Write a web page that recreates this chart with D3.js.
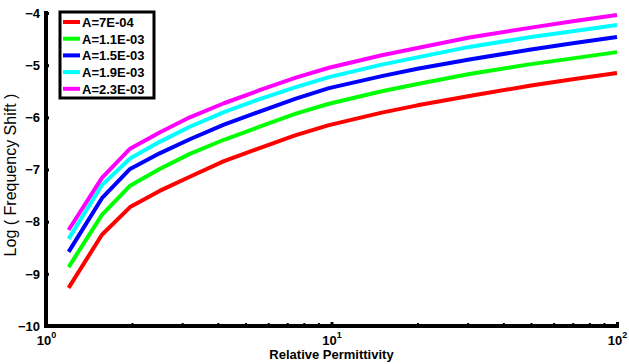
<!DOCTYPE html>
<meta charset="utf-8">
<html>
<head>
<style>
  body { margin: 0; background: #fff; }
  text { font-family: Arial, "Liberation Sans", sans-serif; }
</style>
<script src="https://d3js.org/d3.v7.min.js"></script>
</head>
<body>
<div id="chart"></div>
<script>

// relative permittivity (x values)
var eps = [1.2, 1.57, 1.97, 2.5, 3.19, 4.2, 5.6, 7.5, 9.8, 15, 20, 30.4, 50, 70, 100];

// log frequency shift for each A
var aRed     = [-9.27, -8.25, -7.72, -7.41, -7.14, -6.84, -6.59, -6.34, -6.15, -5.91, -5.77, -5.59, -5.39, -5.27, -5.15];
var aGreen   = [-8.87, -7.87, -7.31, -6.99, -6.70, -6.43, -6.18, -5.93, -5.74, -5.50, -5.36, -5.17, -4.98, -4.87, -4.75];
var aBlue    = [-8.58, -7.55, -6.99, -6.69, -6.42, -6.14, -5.89, -5.64, -5.44, -5.21, -5.07, -4.89, -4.70, -4.58, -4.46];
var aCyan    = [-8.33, -7.30, -6.79, -6.47, -6.18, -5.90, -5.65, -5.42, -5.23, -4.99, -4.85, -4.65, -4.46, -4.35, -4.23];
var aMagenta = [-8.16, -7.16, -6.60, -6.29, -6.00, -5.73, -5.48, -5.24, -5.05, -4.81, -4.67, -4.47, -4.28, -4.16, -4.04];

var labels = ["A=7E-04", "A=1.1E-03", "A=1.5E-03", "A=1.9E-03", "A=2.3E-03"];
var colors = ["#ff0000", "#00ff00", "#0000ff", "#00ffff", "#ff00ff"];
var yTicks = [-4, -5, -6, -7, -8, -9, -10];
var xTicks = [1, 10, 100];

var series = [aRed, aGreen, aBlue, aCyan, aMagenta];

// set the dimensions and margins of the graph
var W = 629, H = 364;
var margin = {top: 13, right: 12, bottom: 38, left: 46},
    width = W - margin.left - margin.right,
    height = H - margin.top - margin.bottom;

var x = d3.scaleLog().domain([1, 100]).range([0, width]);
var y = d3.scaleLinear().domain([-10, -4]).range([height, 0]);

var svg = d3.select("#chart")
  .append("svg")
    .attr("width", W)
    .attr("height", H)
  .append("g")
    .attr("transform", "translate(" + margin.left + "," + margin.top + ")");

// the curves
var line = d3.line()
    .x(function(d) { return x(d[0]); })
    .y(function(d) { return y(d[1]); });

series.forEach(function(s, i) {
  svg.append("path")
      .datum(eps.map(function(e, j) { return [e, s[j]]; }))
      .attr("fill", "none")
      .attr("stroke", colors[i])
      .attr("stroke-width", 4)
      .attr("stroke-linejoin", "round")
      .attr("d", line);
});

// Y axis
var yAxis = svg.append("g")
    .call(d3.axisLeft(y).tickValues(yTicks).tickSize(-3).tickPadding(6).tickFormat(d3.format("d")));
yAxis.select(".domain").attr("stroke-width", 4).attr("d", "M0,-2V" + (height + 2));
yAxis.selectAll(".tick line").attr("stroke-width", 3);
yAxis.selectAll("text")
    .attr("font-size", 13).attr("font-weight", "bold").attr("fill", "#000")
    .attr("font-family", "Arial, 'Liberation Sans', sans-serif");

// X axis, minor ticks
var minor = [];
[1, 10].forEach(function(b) { for (var k = 2; k < 10; k++) minor.push(b * k); });
var xAxisMinor = svg.append("g")
    .attr("transform", "translate(0," + height + ")")
    .call(d3.axisBottom(x).tickValues(minor).tickSize(-3).tickFormat(""));
xAxisMinor.select(".domain").remove();
xAxisMinor.selectAll(".tick line").attr("stroke-width", 2);

// X axis, major ticks
var xAxis = svg.append("g")
    .attr("transform", "translate(0," + height + ")")
    .call(d3.axisBottom(x).tickValues(xTicks).tickSize(-4).tickFormat(""));
xAxis.select(".domain").attr("stroke-width", 4).attr("d", "M-2,0H" + (width + 2));
xAxis.selectAll(".tick line").attr("stroke-width", 3);

// 10^n labels
xAxis.selectAll(".tick").each(function(d) {
  var t = d3.select(this).append("text")
      .attr("y", 19)
      .attr("fill", "#000")
      .attr("font-size", 13)
      .attr("font-weight", "bold")
      .attr("text-anchor", "middle");
  t.append("tspan").text("10");
  t.append("tspan").attr("dy", -7).attr("font-size", 9).text(Math.round(Math.log10(d)));
});

// axis titles
svg.append("text")
    .attr("x", width / 2)
    .attr("y", height + 33)
    .attr("text-anchor", "middle")
    .attr("font-size", 13)
    .attr("font-weight", "bold")
    .text("Relative Permittivity");

svg.append("text")
    .attr("transform", "rotate(-90)")
    .attr("x", -162)
    .attr("y", -30)
    .attr("text-anchor", "middle")
    .attr("font-size", 16)
    .text("Log ( Frequency Shift )");

// legend
var legend = svg.append("g").attr("transform", "translate(14,0)");
legend.append("rect")
    .attr("x", 0).attr("y", -1)
    .attr("width", 94).attr("height", 86)
    .attr("fill", "#fff")
    .attr("stroke", "#000")
    .attr("stroke-width", 3);

labels.forEach(function(l, i) {
  var ry = 9 + i * 16.7;
  legend.append("line")
      .attr("x1", 3).attr("x2", 20)
      .attr("y1", ry).attr("y2", ry)
      .attr("stroke", colors[i])
      .attr("stroke-width", 4);
  legend.append("text")
      .attr("x", 22).attr("y", ry + 5)
      .attr("font-size", 13)
      .attr("font-weight", "bold")
      .text(l);
});

</script>
</body>
</html>
